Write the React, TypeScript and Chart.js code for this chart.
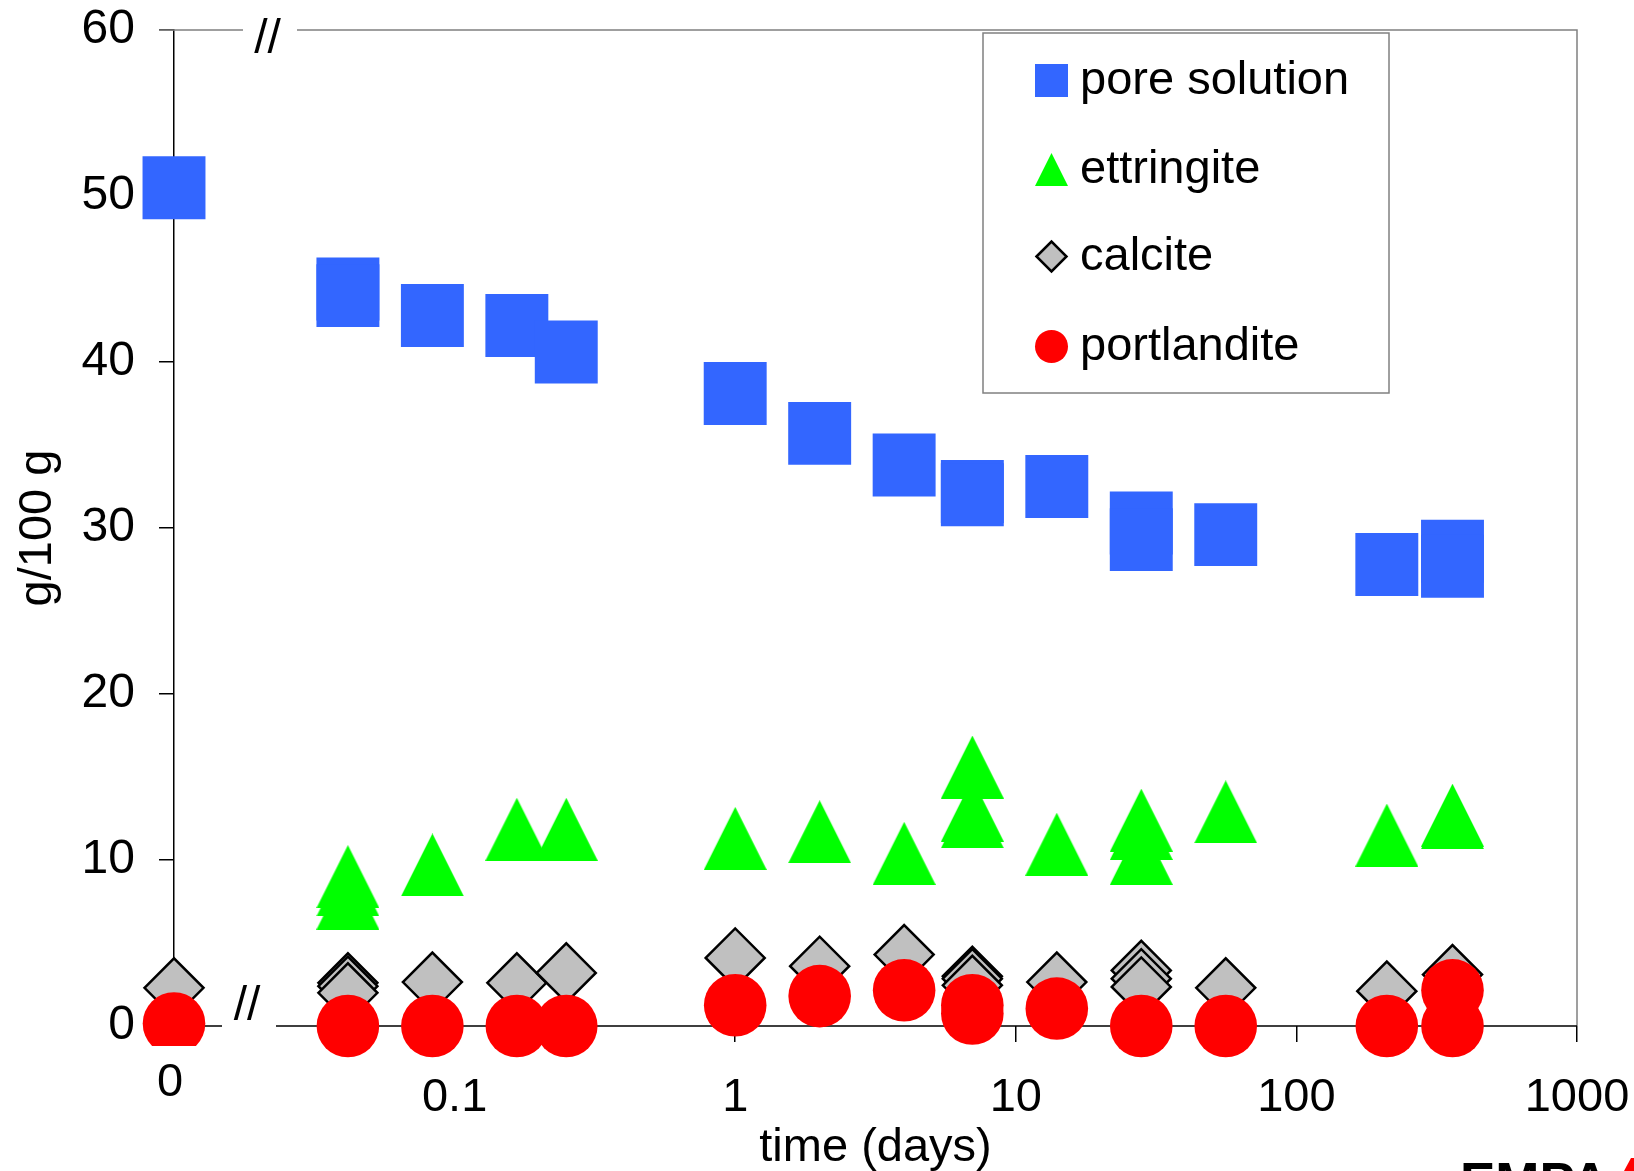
import { useEffect, useRef } from 'react';
import { Chart, registerables } from 'chart.js';

Chart.register(...registerables);

const FONT = "'Liberation Sans', Arial, Helvetica, sans-serif";

// Position on the log axis where the fresh paste (t = 0) is drawn, left of the axis break
const ZERO_DAY_POSITION = 0.01;

// Sampling ages in days; repeated ages are parallel samples
const poreDays = [0, 1 / 24, 1 / 24, 2 / 24, 4 / 24, 6 / 24, 1, 2, 4, 7, 7, 14, 28, 28, 56, 210, 360, 360];
const poreValues = [50.5, 44.4, 44.0, 42.8, 42.2, 40.6, 38.1, 35.7, 33.8, 32.2, 32.0, 32.5, 30.3, 29.3, 29.6, 27.8, 28.6, 27.7];

const ettringiteDays = [1 / 24, 1 / 24, 1 / 24, 2 / 24, 4 / 24, 6 / 24, 1, 2, 4, 7, 7, 7, 14, 28, 28, 28, 56, 210, 360, 360];
const ettringiteValues = [9.0, 8.5, 7.7, 9.7, 11.85, 11.85, 11.3, 11.7, 10.4, 15.6, 13.0, 12.6, 10.95, 12.4, 11.9, 10.4, 12.9, 11.5, 12.7, 12.55];

const calciteDays = [0, 1 / 24, 1 / 24, 1 / 24, 2 / 24, 4 / 24, 6 / 24, 1, 2, 4, 7, 7, 7, 14, 28, 28, 28, 56, 210, 360];
const calciteValues = [2.3, 2.6, 2.4, 2.0, 2.65, 2.6, 3.2, 4.1, 3.6, 4.3, 3.0, 2.85, 2.45, 2.65, 3.35, 2.85, 2.35, 2.3, 2.1, 3.1];

const portlanditeDays = [0, 1 / 24, 2 / 24, 4 / 24, 6 / 24, 1, 2, 4, 7, 7, 14, 28, 56, 210, 360, 360];
const portlanditeValues = [0.15, 0, 0, 0, 0, 1.25, 1.8, 2.15, 1.25, 0.75, 1.05, 0, 0, 0, 2.15, 0];

const seriesNames = ['pore solution', 'ettringite', 'calcite', 'portlandite'];
const seriesColors = ['#3366FF', '#00FF00', '#C0C0C0', '#FF0000'];

const xTickValues = [0.01, 0.1, 1, 10, 100, 1000];
const yMin = 0;
const yMax = 60;
const yStep = 10;

type Pt = { x: number; y: number };

const toPoints = (days: number[], values: number[]): Pt[] =>
  days.map((d, i) => ({ x: d === 0 ? ZERO_DAY_POSITION : d, y: values[i] }));

function triangleMarker(size: number, color: string): HTMLCanvasElement {
  const c = document.createElement('canvas');
  c.width = size;
  c.height = size;
  const g = c.getContext('2d')!;
  g.fillStyle = color;
  g.beginPath();
  g.moveTo(size / 2, 0);
  g.lineTo(size, size);
  g.lineTo(0, size);
  g.closePath();
  g.fill();
  return c;
}

// Broken frame, axis-break marks, the "0" age label and the logo
const framePlugin = {
  id: 'brokenFrame',
  beforeDatasetsDraw(chart: any) {
    const { ctx, chartArea: ca, scales } = chart;
    ctx.save();
    ctx.lineWidth = 1.5;

    ctx.strokeStyle = '#808080';
    ctx.beginPath();
    ctx.moveTo(ca.left - 15, ca.top);
    ctx.lineTo(ca.left + 69, ca.top);
    ctx.moveTo(ca.left + 123, ca.top);
    ctx.lineTo(ca.right, ca.top);
    ctx.lineTo(ca.right, ca.bottom);
    ctx.stroke();

    ctx.strokeStyle = '#000000';
    ctx.beginPath();
    ctx.moveTo(ca.left - 15, ca.bottom);
    ctx.lineTo(ca.left + 48, ca.bottom);
    ctx.moveTo(ca.left + 102, ca.bottom);
    ctx.lineTo(ca.right, ca.bottom);
    ctx.stroke();

    ctx.fillStyle = '#000000';
    ctx.font = `48px ${FONT}`;
    ctx.textAlign = 'center';
    ctx.textBaseline = 'middle';
    ctx.fillText('//', ca.left + 93.5, ca.top + 10);
    ctx.fillText('//', ca.left + 73, ca.bottom - 19);

    ctx.font = `47px ${FONT}`;
    ctx.fillText('0', scales.x.getPixelForValue(ZERO_DAY_POSITION) - 4, ca.bottom + 57);
    ctx.restore();
  },
  afterDraw(chart: any) {
    const { ctx, chartArea: ca } = chart;
    ctx.save();
    // logo at the lower right corner
    ctx.fillStyle = '#000000';
    ctx.font = `bold 53px ${FONT}`;
    ctx.textAlign = 'left';
    ctx.textBaseline = 'alphabetic';
    ctx.fillText('EMPA', chart.width - 174, chart.height + 29);
    ctx.fillStyle = '#FF0000';
    ctx.beginPath();
    ctx.moveTo(chart.width - 3, chart.height - 13);
    ctx.lineTo(chart.width, chart.height - 13);
    ctx.lineTo(chart.width, chart.height);
    ctx.lineTo(chart.width - 10, chart.height);
    ctx.closePath();
    ctx.fill();

    // legend
    const left = ca.right - 594;
    const top = ca.top + 3;
    const w = 406;
    const h = 360;
    ctx.fillStyle = '#FFFFFF';
    ctx.fillRect(left, top, w, h);
    ctx.strokeStyle = '#808080';
    ctx.lineWidth = 1.5;
    ctx.strokeRect(left, top, w, h);

    const baselines = [61, 150, 237, 327];
    const mx = left + 68.5;
    ctx.font = `47px ${FONT}`;
    seriesNames.forEach((name, i) => {
      const by = top + baselines[i];
      const my = by - 13.5;
      ctx.fillStyle = seriesColors[i];
      ctx.beginPath();
      if (i === 0) {
        ctx.rect(mx - 16.5, my - 16.5, 33, 33);
        ctx.fill();
      } else if (i === 1) {
        ctx.moveTo(mx, my - 16.5);
        ctx.lineTo(mx + 16.5, my + 16.5);
        ctx.lineTo(mx - 16.5, my + 16.5);
        ctx.closePath();
        ctx.fill();
      } else if (i === 2) {
        ctx.moveTo(mx - 15, my);
        ctx.lineTo(mx, my - 15);
        ctx.lineTo(mx + 15, my);
        ctx.lineTo(mx, my + 15);
        ctx.closePath();
        ctx.fill();
        ctx.strokeStyle = '#000000';
        ctx.lineWidth = 2.5;
        ctx.stroke();
      } else {
        ctx.arc(mx, my, 16.5, 0, Math.PI * 2);
        ctx.fill();
      }
      ctx.fillStyle = '#000000';
      ctx.textAlign = 'left';
      ctx.textBaseline = 'alphabetic';
      ctx.fillText(name, left + 97, by);
    });
    ctx.restore();
  },
};

export default function App() {
  const canvasRef = useRef<HTMLCanvasElement | null>(null);

  useEffect(() => {
    if (!canvasRef.current) return;
    Chart.defaults.font.family = FONT;
    Chart.defaults.color = '#000000';

    const portlandite = toPoints(portlanditeDays, portlanditeValues);
    const portlanditeFresh = portlandite.filter((p) => p.x === ZERO_DAY_POSITION);
    const portlanditeAged = portlandite.filter((p) => p.x !== ZERO_DAY_POSITION);

    const chart = new Chart(canvasRef.current, {
      type: 'scatter',
      data: {
        datasets: [
          {
            label: seriesNames[0],
            data: toPoints(poreDays, poreValues),
            pointStyle: 'rect',
            pointRadius: 44.5,
            backgroundColor: seriesColors[0],
            borderWidth: 0,
            clip: false as any,
            order: 4,
          },
          {
            label: seriesNames[1],
            data: toPoints(ettringiteDays, ettringiteValues),
            pointStyle: triangleMarker(63, seriesColors[1]) as any,
            pointRadius: 31,
            backgroundColor: seriesColors[1],
            borderWidth: 0,
            clip: false as any,
            order: 3,
          },
          {
            label: seriesNames[2],
            data: toPoints(calciteDays, calciteValues),
            pointStyle: 'rectRot',
            pointRadius: 29.5,
            backgroundColor: seriesColors[2],
            borderColor: '#000000',
            borderWidth: 2.5,
            clip: false as any,
            order: 2,
          },
          {
            label: seriesNames[3],
            data: portlanditeAged,
            pointStyle: 'circle',
            pointRadius: 31.3,
            backgroundColor: seriesColors[3],
            borderWidth: 0,
            clip: false as any,
            order: 1,
          },
          {
            label: seriesNames[3],
            data: portlanditeFresh,
            pointStyle: 'circle',
            pointRadius: 31.3,
            backgroundColor: seriesColors[3],
            borderWidth: 0,
            clip: { left: 100, top: 100, right: 100, bottom: 20 } as any,
            order: 0,
          },
        ],
      },
      options: {
        responsive: false,
        animation: false,
        devicePixelRatio: 1,
        events: [],
        layout: { autoPadding: false, padding: { top: 30, right: 57, left: 0, bottom: 0 } },
        plugins: {
          legend: { display: false },
          tooltip: { enabled: false },
        },
        scales: {
          x: {
            type: 'logarithmic',
            position: 'bottom',
            min: xTickValues[0],
            max: xTickValues[xTickValues.length - 1],
            afterBuildTicks: (scale: any) => {
              scale.ticks = xTickValues.map((v) => ({ value: v }));
            },
            afterFit: (scale: any) => {
              scale.height = 145;
              scale.paddingLeft = 0;
              scale.paddingRight = 0;
            },
            ticks: {
              autoSkip: false,
              maxRotation: 0,
              padding: 28,
              font: { size: 47 },
              color: '#000000',
              callback: (v: any) => (Number(v) === ZERO_DAY_POSITION ? '' : String(Number(v))),
            },
            grid: {
              drawOnChartArea: false,
              drawTicks: true,
              tickLength: 16,
              color: '#000000',
              lineWidth: 1.5,
            },
            border: { display: false },
            title: {
              display: true,
              text: 'time (days)',
              font: { size: 47 },
              color: '#000000',
              padding: { top: 0, bottom: -5 },
            },
          },
          y: {
            type: 'linear',
            min: yMin,
            max: yMax,
            afterFit: (scale: any) => {
              scale.width = 174;
              scale.paddingTop = 0;
              scale.paddingBottom = 0;
            },
            ticks: {
              stepSize: yStep,
              padding: 24,
              font: { size: 48 },
              color: '#000000',
            },
            grid: {
              drawOnChartArea: false,
              drawTicks: true,
              tickLength: 15,
              color: '#000000',
              lineWidth: 1.5,
            },
            border: { display: true, color: '#000000', width: 1.5 },
            title: {
              display: true,
              text: 'g/100 g',
              font: { size: 47 },
              color: '#000000',
              padding: { top: 10, bottom: 0 },
            },
          },
        },
      },
      plugins: [framePlugin],
    } as any);

    return () => chart.destroy();
  }, []);

  return (
    <div style={{ position: 'fixed', left: 0, top: 0, width: 1634, height: 1171, background: '#FFFFFF' }}>
      <canvas ref={canvasRef} width={1634} height={1171} style={{ display: 'block', width: 1634, height: 1171 }} />
    </div>
  );
}
